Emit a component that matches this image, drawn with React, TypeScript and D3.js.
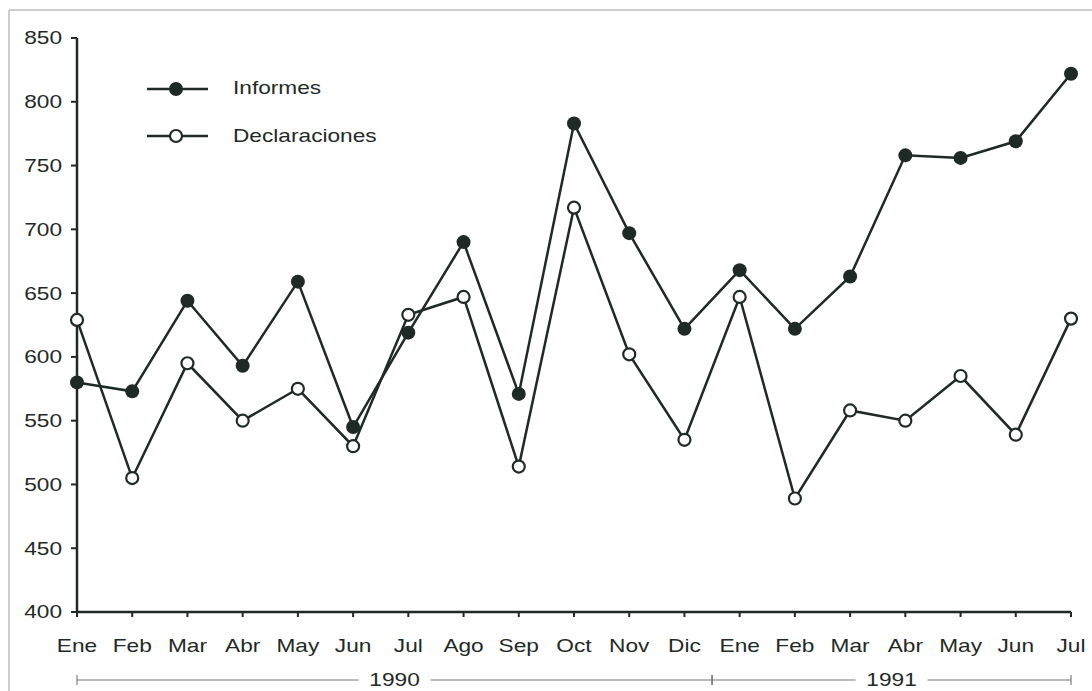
import { line, scaleLinear } from "d3";

const W = 1092;
const H = 691;
const M = { top: 38, right: 20, bottom: 79, left: 77 };

const months = ["Ene", "Feb", "Mar", "Abr", "May", "Jun", "Jul", "Ago", "Sep", "Oct", "Nov", "Dic",
  "Ene", "Feb", "Mar", "Abr", "May", "Jun", "Jul"];
const informes = [580, 573, 644, 593, 659, 545, 619, 690, 571, 783, 697, 622, 668, 622, 663, 758, 756, 769, 822];
const declaraciones = [629, 505, 595, 550, 575, 530, 633, 647, 514, 717, 602, 535, 647, 489, 558, 550, 585, 539, 630];
const yTicks = [400, 450, 500, 550, 600, 650, 700, 750, 800, 850];
const years = [
  { label: "1990", from: 0, to: 11.5 },
  { label: "1991", from: 11.5, to: 18 },
];

const INK = "#1f2a26";
const FONT = "'Liberation Sans', Arial, sans-serif";
const SX = 1.26; // the scanned lettering is wider than Arial

// text stretched horizontally around its anchor point
function T({ x, y, anchor = "start", dy, children }: {
  x: number; y: number; anchor?: "start" | "middle" | "end"; dy?: string; children: React.ReactNode;
}) {
  return (
    <text transform={`translate(${x},${y}) scale(${SX},1)`} dy={dy} textAnchor={anchor}
      fontSize={18} fill={INK}>
      {children}
    </text>
  );
}

export default function App() {
  const idx = months.map((_, i) => i);
  const x = scaleLinear().domain([0, months.length - 1]).range([M.left, 1071]);
  const y = scaleLinear().domain([400, 850]).range([612, M.top]);
  const mk = (vals: number[]) =>
    line<number>()
      .x((_, i) => x(i))
      .y((v) => y(v))(vals) ?? "";

  const yearY = 680;

  return (
    <svg width={W} height={H} style={{ position: "absolute", left: 0, top: 0, background: "#fff" }}
      fontFamily={FONT}>
      {/* faint page frame */}
      <line x1={9} x2={W} y1={10} y2={10} stroke="#9a9f9c" strokeWidth={1} />
      <line x1={9} x2={9} y1={10} y2={H} stroke="#9a9f9c" strokeWidth={1} />

      {/* y axis */}
      <line x1={M.left} x2={M.left} y1={y(850)} y2={y(400)} stroke={INK} strokeWidth={2.5} />
      {yTicks.map((t) => (
        <g key={`y${t}`}>
          <line x1={M.left - 6} x2={M.left} y1={y(t)} y2={y(t)} stroke={INK} strokeWidth={2} />
          <T x={M.left - 15} y={y(t)} dy="0.36em" anchor="end">{t}</T>
        </g>
      ))}

      {/* x axis */}
      <line x1={M.left} x2={x(18)} y1={y(400)} y2={y(400)} stroke={INK} strokeWidth={2.5} />
      {idx.map((i) => (
        <g key={`x${i}`}>
          <line x1={x(i)} x2={x(i)} y1={y(400)} y2={y(400) + 5} stroke={INK} strokeWidth={2} />
          <T x={x(i)} y={652} anchor="middle">{months[i]}</T>
        </g>
      ))}

      {/* year brackets */}
      {years.map((yr) => {
        const a = x(yr.from);
        const b = x(yr.to);
        const mid = (a + b) / 2;
        return (
          <g key={yr.label}>
            <line x1={a} x2={mid - 36} y1={yearY} y2={yearY} stroke="#666" strokeWidth={0.9} />
            <line x1={mid + 36} x2={b} y1={yearY} y2={yearY} stroke="#666" strokeWidth={0.9} />
            <line x1={a} x2={a} y1={yearY - 5} y2={yearY + 5} stroke="#666" strokeWidth={1} />
            <line x1={b} x2={b} y1={yearY - 5} y2={yearY + 5} stroke="#666" strokeWidth={1} />
            <T x={mid} y={yearY} dy="0.36em" anchor="middle">{yr.label}</T>
          </g>
        );
      })}

      {/* series */}
      <path d={mk(informes)} fill="none" stroke={INK} strokeWidth={2.5} />
      <path d={mk(declaraciones)} fill="none" stroke={INK} strokeWidth={2.5} />
      {informes.map((v, i) => (
        <circle key={`i${i}`} cx={x(i)} cy={y(v)} r={7} fill={INK} />
      ))}
      {declaraciones.map((v, i) => (
        <circle key={`d${i}`} cx={x(i)} cy={y(v)} r={6} fill="#fff" stroke={INK} strokeWidth={2.2} />
      ))}

      {/* legend */}
      <g>
        <line x1={147} x2={208} y1={89} y2={89} stroke={INK} strokeWidth={2.5} />
        <circle cx={176} cy={89} r={7} fill={INK} />
        <T x={233} y={94}>Informes</T>
        <line x1={147} x2={208} y1={136} y2={136} stroke={INK} strokeWidth={2.5} />
        <circle cx={176} cy={136} r={6} fill="#fff" stroke={INK} strokeWidth={2.2} />
        <T x={233} y={142}>Declaraciones</T>
      </g>
    </svg>
  );
}
